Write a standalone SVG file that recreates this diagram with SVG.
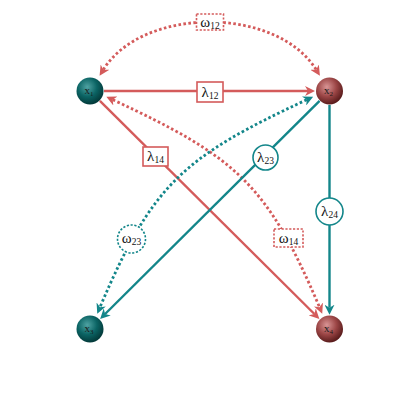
<svg xmlns="http://www.w3.org/2000/svg" width="420" height="420" viewBox="0 0 420 420">
<style>
.red{stroke:#d45b5b;fill:none}
.teal{stroke:#13868a;fill:none}
.solid{stroke-width:2.4}
.dot{stroke-width:2.8;stroke-dasharray:2.6 2.4}
.box{fill:#fff;stroke-width:1.6}
.dbox{fill:#fff;stroke-width:1.6;stroke-dasharray:2.2 1.6}
.lab{font-family:"Liberation Serif","DejaVu Serif",serif;font-size:15px;fill:#111;text-anchor:middle}
.sub{font-size:9.5px}
.nl{font-family:"Liberation Serif","DejaVu Serif",serif;font-size:11px;fill:#1a1a1a;text-anchor:middle}
.ns{font-size:7px}
</style>
<defs>
<radialGradient id="gt" cx="0.4" cy="0.35" r="0.65">
<stop offset="0" stop-color="#4fa3a3"/>
<stop offset="0.55" stop-color="#0b6464"/>
<stop offset="1" stop-color="#033a3a"/>
</radialGradient>
<radialGradient id="gr" cx="0.4" cy="0.35" r="0.65">
<stop offset="0" stop-color="#d99595"/>
<stop offset="0.55" stop-color="#9c4646"/>
<stop offset="1" stop-color="#5a1c1c"/>
</radialGradient>
<marker id="ar" viewBox="0 0 10 10" refX="3" refY="5" markerWidth="10" markerHeight="10" markerUnits="userSpaceOnUse" orient="auto-start-reverse">
<path d="M0,0 L10,5 L0,10 L3,5 z" fill="#d45b5b"/>
</marker>
<marker id="at" viewBox="0 0 10 10" refX="3" refY="5" markerWidth="10" markerHeight="10" markerUnits="userSpaceOnUse" orient="auto-start-reverse">
<path d="M0,0 L10,5 L0,10 L3,5 z" fill="#13868a"/>
</marker>
</defs>
<g id="connectors">
<g id="e-omega12">
<path class="red dot" d="M103.3,69.7 C143.1,6.1 276.4,6.1 316.2,69.7" marker-start="url(#ar)" marker-end="url(#ar)"/>
<rect class="red dbox" x="196.5" y="14" width="27" height="16"/>
<text class="lab" x="210" y="26.5">ω<tspan class="sub" dy="2">12</tspan></text>
</g>
<g id="e-lambda12">
<path class="red solid" d="M104,91 L308,91" marker-end="url(#ar)"/>
<rect class="red box" x="197" y="82" width="26" height="20"/>
<text class="lab" x="210" y="96.5">λ<tspan class="sub" dy="2">12</tspan></text>
</g>
<g id="e-lambda14">
<path class="red solid" d="M99.9,100.9 L314.4,314" marker-end="url(#ar)"/>
<rect class="red box" x="143" y="147" width="25" height="19"/>
<text class="lab" x="155.5" y="161">λ<tspan class="sub" dy="2">14</tspan></text>
</g>
<g id="e-omega14">
<path class="red dot" d="M112.7,99.7 C235,156.7 266.8,182.9 319.5,307.2" marker-start="url(#ar)" marker-end="url(#ar)"/>
<rect class="red dbox" x="274" y="229" width="29" height="18"/>
<text class="lab" x="288.5" y="242.5">ω<tspan class="sub" dy="2">14</tspan></text>
</g>
<g id="e-omega23">
<path class="teal dot" d="M306.8,99.7 C184.5,156.7 152.7,182.9 100,307.2" marker-start="url(#at)" marker-end="url(#at)"/>
<circle class="teal dbox" cx="131.5" cy="239" r="14"/>
<text class="lab" x="131.5" y="243">ω<tspan class="sub" dy="2">23</tspan></text>
</g>
<g id="e-lambda23">
<path class="teal solid" d="M319.6,100.9 L105.1,314" marker-end="url(#at)"/>
<circle class="teal box" cx="265.5" cy="157.5" r="12.5"/>
<text class="lab" x="265.5" y="161.5">λ<tspan class="sub" dy="2">23</tspan></text>
</g>
<g id="e-lambda24">
<path class="teal solid" d="M329.5,105 L329.5,307.7" marker-end="url(#at)"/>
<circle class="teal box" cx="329.5" cy="211.5" r="13.5"/>
<text class="lab" x="329.5" y="215.5">λ<tspan class="sub" dy="2">24</tspan></text>
</g>
</g>
<g id="x1">
<circle cx="90" cy="91" r="13.5" fill="url(#gt)"/>
<text class="nl" x="89" y="94">x<tspan class="ns" dy="2">1</tspan></text>
</g>
<g id="x2">
<circle cx="329.5" cy="91" r="13.5" fill="url(#gr)"/>
<text class="nl" x="328.5" y="94">x<tspan class="ns" dy="2">2</tspan></text>
</g>
<g id="x3">
<circle cx="90" cy="329" r="13.5" fill="url(#gt)"/>
<text class="nl" x="89" y="332">x<tspan class="ns" dy="2">3</tspan></text>
</g>
<g id="x4">
<circle cx="329.5" cy="329" r="13.5" fill="url(#gr)"/>
<text class="nl" x="328.5" y="332">x<tspan class="ns" dy="2">4</tspan></text>
</g>
</svg>
